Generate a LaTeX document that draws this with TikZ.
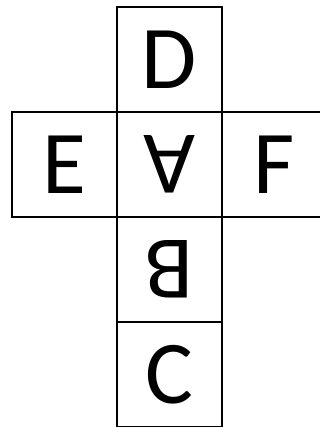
\documentclass[tikz,border=0pt]{standalone}
\usepackage{fontspec}
\setmainfont{Carlito}
\begin{document}
\begin{tikzpicture}[x=1bp,y=-1bp,
  face/.style={draw=black,line width=1.1pt,minimum size=105bp,inner sep=0pt,
    font=\fontsize{90}{90}\selectfont}]
\useasboundingbox (0,0) rectangle (320,427);
\clip (0,0) rectangle (320,427);
\node[face] (d) at (169.5,59.5) {D};
\node[face,rotate=180] (a) at (169.5,164.5) {A};
\node[face] (e) at (64.5,164.5) {E};
\node[face] (f) at (274.5,164.5) {F};
\node[face,rotate=180] (b) at (169.5,269.5) {B};
\node[face] (c) at (169.5,374.5) {C};
\end{tikzpicture}
\end{document}
